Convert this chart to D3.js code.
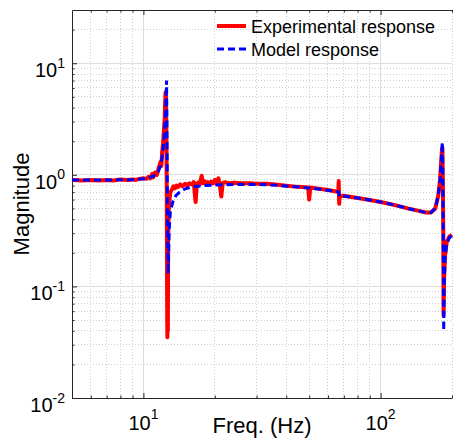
<!DOCTYPE html>
<html><head><meta charset="utf-8">
<script src="https://cdn.jsdelivr.net/npm/d3@7"></script>
<style>body{margin:0;background:#fff}svg{display:block}text{font-family:"Liberation Sans",Arial,sans-serif;fill:#000}</style>
</head><body><svg id="c" width="454" height="443"></svg>
<script>
// ---- data ----
const modelFreq = [5,7,9,10,10.5,11,11.5,11.8,12.0,12.2,12.35,12.45,12.52,12.56,12.6,12.65,12.72,12.78,12.85,13.0,13.3,13.7,14.2,15,16,18,20,25,30,35,40,46,55,62,66.5,67,70,80,90,100,115,130,145,155,163,170,175,178,180,181.5,182.2,183,183.8,184.5,185.5,187,190,195,200];
const modelMag  = [0.90,0.90,0.905,0.92,0.94,0.97,1.05,1.2,1.45,2.0,3.0,4.5,7.0,3.0,1.0,0.3,0.13,0.2,0.33,0.47,0.57,0.65,0.70,0.75,0.78,0.80,0.81,0.82,0.82,0.81,0.795,0.775,0.745,0.72,0.705,0.64,0.645,0.62,0.595,0.57,0.535,0.50,0.475,0.46,0.46,0.50,0.65,0.9,1.3,1.8,1.95,0.9,0.25,0.04,0.11,0.18,0.24,0.275,0.285];
const expFreq = [5,5.5,6,6.5,7,7.5,8,8.5,9,9.3,9.6,10,10.3,10.5,10.7,10.9,11.0,11.2,11.4,11.6,11.8,11.9,12.0,12.1,12.2,12.3,12.35,12.4,12.45,12.5,12.55,12.6,12.62,12.65,12.68,12.72,12.8,12.9,13.0,13.2,13.4,13.6,13.8,14.0,14.3,14.6,15,15.3,15.6,16,16.3,16.6,16.8,17.0,17.3,17.6,17.8,18.1,18.4,18.7,19,19.3,19.6,20.0,20.3,20.7,21.0,21.3,21.6,22,23,24,26,28,30,33,36,40,45,49.5,50,50.5,55,60,65,66.3,66.6,66.9,67.2,70,80,90,100,115,130,145,155,163,170,175,178,180,181.5,182.2,183,183.8,184.3,185.3,187,190,195,200];
const expMag  = [0.90,0.89,0.90,0.89,0.90,0.89,0.91,0.90,0.91,0.90,0.92,0.93,0.92,0.96,0.93,1.02,0.95,1.05,1.0,1.15,1.3,1.2,1.6,1.9,2.5,3.2,4.5,5.5,5.0,2.5,0.6,0.05,0.035,0.1,0.04,0.3,0.5,0.62,0.70,0.74,0.79,0.76,0.80,0.78,0.82,0.79,0.83,0.80,0.84,0.82,0.86,0.57,0.82,0.85,0.83,0.98,0.84,0.88,0.82,0.86,0.83,0.87,0.84,0.90,0.83,0.93,0.82,0.64,0.84,0.86,0.84,0.85,0.84,0.84,0.83,0.83,0.82,0.80,0.78,0.77,0.60,0.77,0.75,0.73,0.71,0.70,0.88,0.55,0.64,0.65,0.62,0.595,0.57,0.535,0.50,0.475,0.46,0.46,0.50,0.65,0.9,1.3,1.7,1.75,0.9,0.3,0.055,0.12,0.19,0.25,0.28,0.29];
const xMajorTicks = [10,100];
const yMajorTicks = [0.01,0.1,1,10];
const xTickLabels = ["1","2"];
const yTickLabels = ["-2","-1","0","1"];
const seriesNames = ["Experimental response","Model response"];
const xTitle = "Freq. (Hz)", yTitle = "Magnitude";

// ---- layout ----
const L=72, R=452, T=10, B=398;
const svg=d3.select("#c");
const x=d3.scaleLog().domain([5,200]).range([L,R]);
const y=d3.scaleLog().domain([0.01,30]).range([B,T]);

const xMinor=[], yMinor=[];
[1,10,100].forEach(d=>{for(let k=2;k<=9;k++){const v=d*k;if(v>5&&v<200&&v!==10&&v!==100)xMinor.push(v);}});
[0.01,0.1,1,10].forEach(d=>{for(let k=2;k<=9;k++){const v=d*k;if(v<30)yMinor.push(v);}});
xMinor.push(200);

const g=svg.append("g");
// minor grid
g.selectAll(".xm").data(xMinor).join("line").attr("x1",d=>x(d)).attr("x2",d=>x(d)).attr("y1",T).attr("y2",B)
 .attr("stroke","#cfcfcf").attr("stroke-width",1).attr("stroke-dasharray","1,2").attr("shape-rendering","crispEdges");
g.selectAll(".ym").data(yMinor).join("line").attr("y1",d=>y(d)).attr("y2",d=>y(d)).attr("x1",L).attr("x2",R)
 .attr("stroke","#cfcfcf").attr("stroke-width",1).attr("stroke-dasharray","1,2").attr("shape-rendering","crispEdges");
// major grid
g.selectAll(".xM").data(xMajorTicks).join("line").attr("x1",d=>x(d)).attr("x2",d=>x(d)).attr("y1",T).attr("y2",B)
 .attr("stroke","#dedede").attr("stroke-width",1).attr("shape-rendering","crispEdges");
g.selectAll(".yM").data(yMajorTicks.concat([])).join("line").attr("y1",d=>y(d)).attr("y2",d=>y(d)).attr("x1",L).attr("x2",R)
 .attr("stroke","#dedede").attr("stroke-width",1).attr("shape-rendering","crispEdges");

// axes (ticks inward)
function ax(gen, tr){
  const a=svg.append("g").attr("transform",tr).call(gen);
  a.selectAll("text").remove();
  a.select(".domain").attr("stroke","#262626");
  a.selectAll(".tick line").attr("stroke","#262626");
  return a;
}
ax(d3.axisBottom(x).tickValues(xMajorTicks).tickSize(-5).tickSizeOuter(0).tickFormat(""),`translate(0,${B})`);
ax(d3.axisBottom(x).tickValues(xMinor).tickSize(-2.5).tickSizeOuter(0).tickFormat(""),`translate(0,${B})`).select(".domain").remove();
ax(d3.axisTop(x).tickValues(xMajorTicks).tickSize(-5).tickSizeOuter(0).tickFormat(""),`translate(0,${T})`);
ax(d3.axisTop(x).tickValues(xMinor).tickSize(-2.5).tickSizeOuter(0).tickFormat(""),`translate(0,${T})`).select(".domain").remove();
ax(d3.axisLeft(y).tickValues(yMajorTicks).tickSize(-5).tickSizeOuter(0).tickFormat(""),`translate(${L},0)`);
ax(d3.axisLeft(y).tickValues(yMinor).tickSize(-2.5).tickSizeOuter(0).tickFormat(""),`translate(${L},0)`).select(".domain").remove();

// tick labels
xMajorTicks.forEach((v,i)=>{
  const t=svg.append("text").attr("x",x(v)).attr("y",B+32).attr("text-anchor","middle").attr("font-size",20);
  t.append("tspan").text("10");
  t.append("tspan").attr("dy",-11).attr("font-size",14).text(xTickLabels[i]);
});
yMajorTicks.forEach((v,i)=>{
  const t=svg.append("text").attr("x",L-7).attr("y",y(v)+14).attr("text-anchor","end").attr("font-size",20);
  t.append("tspan").text("10");
  t.append("tspan").attr("dy",-9.5).attr("font-size",14).text(yTickLabels[i]);
});
svg.append("text").attr("x",(L+R)/2).attr("y",433).attr("text-anchor","middle").attr("font-size",22).text(xTitle);
svg.append("text").attr("transform",`translate(29,${(T+B)/2}) rotate(-90)`).attr("text-anchor","middle").attr("font-size",22).text(yTitle);

// lines
svg.append("clipPath").attr("id","cp").append("rect").attr("x",L).attr("y",T).attr("width",R-L+2).attr("height",B-T);
const line=d3.line().x(d=>x(d[0])).y(d=>y(d[1]));
const pg=svg.append("g").attr("clip-path","url(#cp)");
pg.append("path").datum(expFreq.map((f,i)=>[f,expMag[i]])).attr("d",line).attr("fill","none")
  .attr("stroke","#ff0000").attr("stroke-width",4).attr("stroke-linejoin","round");
pg.append("path").datum(modelFreq.map((f,i)=>[f,modelMag[i]])).attr("d",line).attr("fill","none")
  .attr("stroke","#0000ff").attr("stroke-width",3).attr("stroke-dasharray","7,4");

// legend
const lg=svg.append("g");
lg.append("line").attr("x1",217).attr("x2",246).attr("y1",26).attr("y2",26).attr("stroke","#ff0000").attr("stroke-width",4);
lg.append("line").attr("x1",217).attr("x2",246).attr("y1",49).attr("y2",49).attr("stroke","#0000ff").attr("stroke-width",3).attr("stroke-dasharray","7,4");
lg.append("text").attr("x",251).attr("y",32.5).attr("font-size",18).text(seriesNames[0]);
lg.append("text").attr("x",251).attr("y",55.5).attr("font-size",18).text(seriesNames[1]);
</script></body></html>
